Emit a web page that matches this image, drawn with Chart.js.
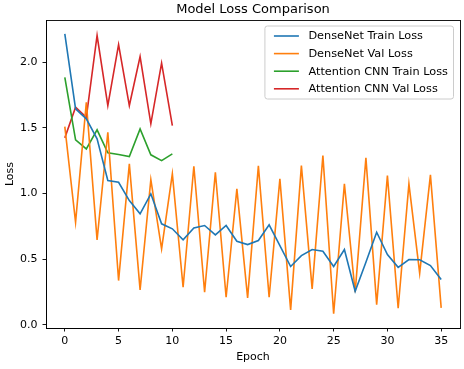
<!DOCTYPE html>
<html>
<head>
<meta charset="utf-8">
<script src="https://cdn.jsdelivr.net/npm/chart.js@4/dist/chart.umd.min.js"></script>
<style>
  html, body { margin: 0; padding: 0; background: #fff; }
  #c { display: block; }
</style>
</head>
<body>
<canvas id="c" width="464" height="369"></canvas>
<script>
// ---- Data ----
const denseEpochs = [0,1,2,3,4,5,6,7,8,9,10,11,12,13,14,15,16,17,18,19,20,21,22,23,24,25,26,27,28,29,30,31,32,33,34,35];
const denseTrainLoss = [2.215,1.644,1.568,1.415,1.098,1.085,0.946,0.845,0.997,0.769,0.731,0.647,0.738,0.756,0.685,0.756,0.636,0.611,0.642,0.761,0.603,0.444,0.527,0.573,0.560,0.444,0.573,0.256,0.477,0.705,0.535,0.438,0.497,0.495,0.451,0.345];
const denseValLoss = [1.509,0.781,1.694,0.647,1.466,0.337,1.225,0.266,1.106,0.578,1.149,0.286,1.207,0.248,1.161,0.210,1.035,0.205,1.210,0.210,1.111,0.114,1.212,0.274,1.288,0.084,1.073,0.248,1.271,0.154,1.136,0.126,1.073,0.393,1.141,0.129];
const attnEpochs = [0,1,2,3,4,5,6,7,8,9,10];
const attnTrainLoss = [1.884,1.408,1.339,1.484,1.309,1.296,1.281,1.491,1.294,1.250,1.301];
const attnValLoss = [1.423,1.656,1.580,2.202,1.669,2.133,1.669,2.042,1.530,1.991,1.517];
const seriesNames = ['DenseNet Train Loss','DenseNet Val Loss','Attention CNN Train Loss','Attention CNN Val Loss'];
const seriesColors = ['#1f77b4','#ff7f0e','#2ca02c','#d62728'];
const xTicks = [0,5,10,15,20,25,30,35];
const yTicks = [0.0,0.5,1.0,1.5,2.0];
const chartTitle = 'Model Loss Comparison';
const xTitle = 'Epoch';
const yTitle = 'Loss';

const FONT = 'DejaVu Sans';
const pts = (xs, ys) => xs.map((x, i) => ({x: x, y: ys[i]}));

const seriesData = [
  pts(denseEpochs, denseTrainLoss),
  pts(denseEpochs, denseValLoss),
  pts(attnEpochs, attnTrainLoss),
  pts(attnEpochs, attnValLoss)
];

const datasets = seriesData.map((d, i) => ({
  label: seriesNames[i],
  data: d,
  borderColor: seriesColors[i],
  backgroundColor: seriesColors[i],
  borderWidth: 1.6,
  pointRadius: 0,
  pointHoverRadius: 0,
  tension: 0,
  fill: false
}));

// full box (all four spines)
const frame = {
  id: 'frame',
  afterDatasetsDraw(chart) {
    const {ctx, chartArea: a} = chart;
    ctx.save();
    ctx.strokeStyle = '#000';
    ctx.lineWidth = 0.9;
    ctx.strokeRect(Math.round(a.left) + 0.5, Math.round(a.top) + 0.5,
                   Math.round(a.right - a.left), Math.round(a.bottom - a.top));
    ctx.restore();
  }
};

// matplotlib-style legend inside the axes, upper right
const mplLegend = {
  id: 'mplLegend',
  afterDraw(chart) {
    const {ctx, chartArea: a} = chart;
    ctx.save();
    ctx.font = '11.3px "' + FONT + '"';
    let tw = 0;
    seriesNames.forEach(n => { tw = Math.max(tw, ctx.measureText(n).width); });
    const padL = 9, handle = 25, gap = 9.5, padR = 5.5;
    const w = padL + handle + gap + tw + padR;
    const h = 73;
    const right = a.right - 6.5;
    const x0 = right - w, y0 = a.top + 6;
    const r = 2.5;
    ctx.beginPath();
    ctx.moveTo(x0 + r, y0);
    ctx.lineTo(x0 + w - r, y0);
    ctx.quadraticCurveTo(x0 + w, y0, x0 + w, y0 + r);
    ctx.lineTo(x0 + w, y0 + h - r);
    ctx.quadraticCurveTo(x0 + w, y0 + h, x0 + w - r, y0 + h);
    ctx.lineTo(x0 + r, y0 + h);
    ctx.quadraticCurveTo(x0, y0 + h, x0, y0 + h - r);
    ctx.lineTo(x0, y0 + r);
    ctx.quadraticCurveTo(x0, y0, x0 + r, y0);
    ctx.closePath();
    ctx.fillStyle = 'rgba(255,255,255,0.8)';
    ctx.fill();
    ctx.strokeStyle = '#cccccc';
    ctx.lineWidth = 1;
    ctx.stroke();
    ctx.textBaseline = 'middle';
    ctx.textAlign = 'left';
    seriesNames.forEach((n, i) => {
      const yy = y0 + 10 + i * 17.6;
      ctx.strokeStyle = seriesColors[i];
      ctx.lineWidth = 1.6;
      ctx.beginPath();
      ctx.moveTo(x0 + padL, yy);
      ctx.lineTo(x0 + padL + handle, yy);
      ctx.stroke();
      ctx.fillStyle = '#000';
      ctx.fillText(n, x0 + padL + handle + gap, yy + 0.5);
    });
    ctx.restore();
  }
};

new Chart(document.getElementById('c'), {
  type: 'line',
  data: { datasets: datasets },
  options: {
    responsive: false,
    animation: false,
    devicePixelRatio: 1,
    layout: { padding: { left: 0, right: 4, top: 0, bottom: 0 } },
    plugins: {
      legend: { display: false },
      tooltip: { enabled: false },
      title: {
        display: true,
        text: chartTitle,
        fullSize: false,
        color: '#000',
        font: { family: FONT, size: 13, weight: 'normal' },
        padding: { top: 2, bottom: 2.4 }
      }
    },
    scales: {
      x: {
        type: 'linear',
        min: -1.75,
        max: 36.75,
        afterBuildTicks: s => { s.ticks = xTicks.map(v => ({value: v})); },
        afterFit: s => { s.height = 41; },
        ticks: {
          color: '#000',
          font: { family: FONT, size: 11 },
          padding: 3.5,
          maxRotation: 0,
          callback: v => String(v)
        },
        grid: { display: true, drawOnChartArea: false, drawTicks: true, tickLength: 3.5, color: '#000', lineWidth: 0.9 },
        border: { display: true, color: '#000', width: 0.9 },
        title: {
          display: true,
          text: xTitle,
          color: '#000',
          font: { family: FONT, size: 11 },
          padding: { top: 0, bottom: 5 }
        }
      },
      y: {
        type: 'linear',
        min: -0.024,
        max: 2.32,
        afterBuildTicks: s => { s.ticks = yTicks.map(v => ({value: v})); },
        afterFit: s => { s.width = 46; },
        ticks: {
          color: '#000',
          font: { family: FONT, size: 11 },
          padding: 5,
          callback: v => Number(v).toFixed(1)
        },
        grid: { display: true, drawOnChartArea: false, drawTicks: true, tickLength: 3.5, color: '#000', lineWidth: 0.9 },
        border: { display: true, color: '#000', width: 0.9 },
        title: {
          display: true,
          text: yTitle,
          color: '#000',
          font: { family: FONT, size: 11 },
          padding: { top: 3.4, bottom: 0 }
        }
      }
    }
  },
  plugins: [frame, mplLegend]
});
</script>
</body>
</html>
